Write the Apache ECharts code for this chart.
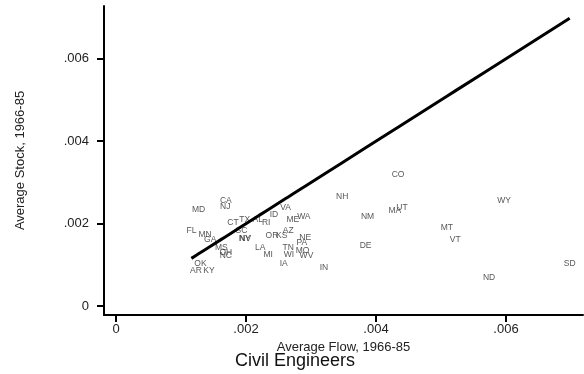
<!DOCTYPE html>
<html>
<head>
<meta charset="utf-8">
<script src="https://cdn.jsdelivr.net/npm/echarts@6/dist/echarts.min.js"></script>
<style>html,body{margin:0;padding:0;background:#fff}#c{width:584px;height:374px}</style>
</head>
<body>
<div id="c"></div>
<script>
var states = ['CA','NJ','MD','FL','MN','GA','MS','OH','NC','OK','AR','KY','CT','TX','AL','RI','ID','VA','SC','NY','NV','OR','KS','AZ','ME','WA','NE','PA','LA','MI','TN','WI','MO','WV','IA','IN','NH','NM','DE','CO','MA','UT','MT','VT','WY','ND','SD'];
var flows  = [0.00169,0.00168,0.00127,0.00116,0.00137,0.00145,0.00162,0.00169,0.00169,0.00130,0.00123,0.00143,0.00180,0.00198,0.00218,0.00231,0.00243,0.00261,0.00193,0.00198,0.00199,0.00240,0.00255,0.00265,0.00272,0.00289,0.00291,0.00286,0.00222,0.00234,0.00265,0.00266,0.00287,0.00293,0.00258,0.00320,0.00348,0.00387,0.00384,0.00434,0.00429,0.00440,0.00509,0.00522,0.00597,0.00574,0.00698];
var stocks = [0.00256,0.00241,0.00235,0.00183,0.00173,0.00162,0.00143,0.00131,0.00122,0.00102,0.00085,0.00085,0.00202,0.00211,0.00211,0.00202,0.00223,0.00240,0.00183,0.00163,0.00163,0.00172,0.00172,0.00184,0.00211,0.00216,0.00167,0.00154,0.00143,0.00124,0.00143,0.00124,0.00135,0.00122,0.00104,0.00094,0.00265,0.00216,0.00148,0.00318,0.00231,0.00240,0.00191,0.00162,0.00255,0.00070,0.00104];
var tickValues = [0, 0.002, 0.004, 0.006];

var pts = states.map(function(s,i){ return {name:s, value:[flows[i], stocks[i]]}; });
var diag = flows.slice().sort(function(a,b){return a-b;}).map(function(f){ return [f,f]; });
function fmt(v){ return v === 0 ? '0' : String(v).replace(/^0/, ''); }

var chart = echarts.init(document.getElementById('c'));
chart.setOption({
  animation: false,
  textStyle: {fontFamily: 'Liberation Sans, Arial, sans-serif'},
  grid: {left: 104, right: 1, top: 6, bottom: 59},
  xAxis: {
    type: 'value', min: -0.0001846, max: 0.0071846,
    name: 'Average Flow, 1966-85', nameLocation: 'middle', nameGap: 15,
    nameTextStyle: {fontSize: 13, color: '#222'},
    axisLine: {show: true, onZero: false, lineStyle: {color: '#000', width: 2}},
    axisTick: {show: true, length: 7, lineStyle: {color: '#000', width: 2}, customValues: tickValues},
    axisLabel: {fontSize: 13, color: '#222', margin: 8, formatter: fmt, customValues: tickValues},
    splitLine: {show: false}
  },
  yAxis: {
    type: 'value', min: -0.000213, max: 0.007278,
    name: 'Average Stock, 1966-85', nameLocation: 'middle', nameGap: 77,
    nameTextStyle: {fontSize: 13, color: '#222'},
    axisLine: {show: true, onZero: false, lineStyle: {color: '#000', width: 2}},
    axisTick: {show: true, length: 7, lineStyle: {color: '#000', width: 2}, customValues: tickValues},
    axisLabel: {fontSize: 13, color: '#222', margin: 15, formatter: fmt, customValues: tickValues},
    splitLine: {show: false}
  },
  graphic: [{
    type: 'text', x: 295, y: 361,
    style: {text: 'Civil Engineers', font: '18px "Liberation Sans", Arial, sans-serif', fill: '#111', textAlign: 'center', textVerticalAlign: 'middle'}
  }],
  series: [
    {
      type: 'scatter', data: pts, symbolSize: 1, z: 2,
      itemStyle: {color: 'rgba(0,0,0,0)'},
      label: {show: true, position: 'inside', formatter: '{b}', fontSize: 8.5, color: '#2a2a2a', fontFamily: 'Liberation Sans, Arial, sans-serif'}
    },
    {
      type: 'line', data: diag, showSymbol: false, z: 5,
      lineStyle: {color: '#000', width: 3}
    }
  ]
});
</script>
</body>
</html>
